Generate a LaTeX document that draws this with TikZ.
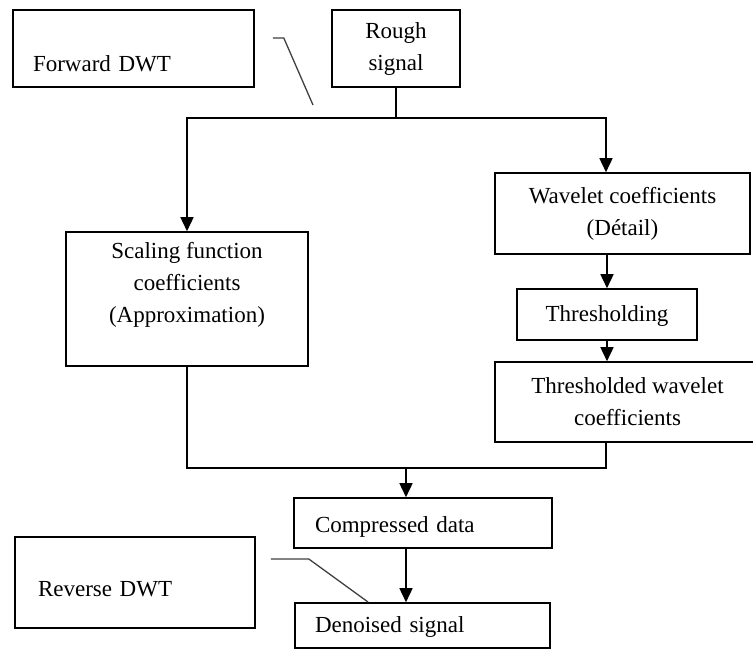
\documentclass[tikz,border=0pt]{standalone}
\usepackage{fontspec}
\setmainfont{Liberation Serif}
\usetikzlibrary{arrows.meta}

\begin{document}
\begin{tikzpicture}[x=1pt,y=-1pt,
    font=\fontsize{23}{32}\selectfont,
    box/.style={draw, line width=1.6pt, inner sep=0pt, align=center},
    flow/.style={line width=1.6pt},
    arr/.style={flow, -{Triangle[length=14pt,width=13pt]}},
    callout/.style={line width=1.3pt, black!75}]
    \clip (0,0) rectangle (753,651);
    \fill[white] (0,0) rectangle (753,651);

    % Upper part: input and the two branches of the forward transform
    \node[box, minimum width=241pt, minimum height=77pt, text width=201pt, align=left, text height=49pt, text depth=4pt] (fwd) at (133.5,48.5) {Forward DWT};
    \node[box, minimum width=128pt, minimum height=77pt] (rough) at (396,48.5) {Rough\\signal};
    \node[box, minimum width=242pt, minimum height=134pt, text height=50pt, text depth=4pt] (scal) at (187,299) {Scaling function\\coefficients\\(Approximation)};
    \node[box, minimum width=255pt, minimum height=81pt] (wave) at (622.5,213.5) {Wavelet coefficients\\(Détail)};
    \node[box, minimum width=180pt, minimum height=51pt, text height=18pt, text depth=4pt] (thr) at (607,314.5) {Thresholding};
    \node[box, minimum width=265pt, minimum height=80pt] (thrw) at (627.5,402) {Thresholded wavelet\\coefficients};

    % Lower part: merged data and the reverse transform
    \node[box, minimum width=258pt, minimum height=50pt, text width=216pt, align=left, text height=22pt, text depth=4pt] (comp) at (423,523) {Compressed data};
    \node[box, minimum width=255pt, minimum height=45pt, text width=215pt, align=left, text height=18pt, text depth=4pt] (deno) at (422.5,625.5) {Denoised signal};
    \node[box, minimum width=240pt, minimum height=91pt, text width=194pt, align=left, text height=31pt, text depth=4pt] (rev) at (135,582.5) {Reverse DWT};

    % Junctions of the flow lines
    \coordinate (split) at (396,118);
    \coordinate (merge) at (406,468);
    \coordinate (fwdtip) at (313,105);
    \coordinate (revtip) at (368,602);

    % Flow lines
    \draw[flow] (rough.south) -- (split);
    \draw[arr] (split) -| (scal.north);
    \draw[arr] (split) -| ([xshift=-16.5pt]wave.north);
    \draw[arr] (thr.north |- wave.south) -- (thr.north);
    \draw[arr] (thr.south) -- (thr.south |- thrw.north);
    \draw[flow] (scal.south) |- (merge);
    \draw[flow] ([xshift=-21.5pt]thrw.south) |- (merge);
    \draw[arr] (merge) -- (merge |- comp.north);
    \draw[arr] (merge |- comp.south) -- (merge |- deno.north);

    % Callout lines of the two labels
    \draw[callout] ([xshift=18pt,yshift=10.5pt]fwd.east) -- ++(11,0) -- (fwdtip);
    \draw[callout] ([xshift=15pt,yshift=23.5pt]rev.east) -- ++(38,0) -- (revtip);
\end{tikzpicture}
\end{document}
